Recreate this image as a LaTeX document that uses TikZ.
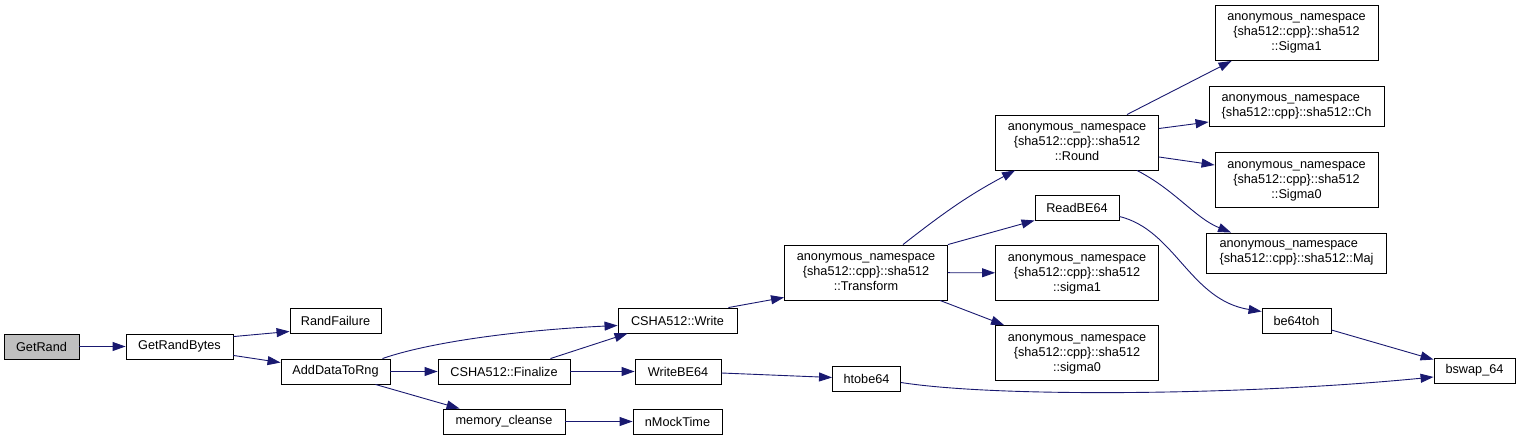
\documentclass[tikz,border=0pt]{standalone}
\usepackage{fontspec}
\setmainfont{Liberation Sans}
\usetikzlibrary{arrows.meta}
\definecolor{edgeblue}{HTML}{191970}
\definecolor{rootgray}{HTML}{BFBFBF}
\newcommand{\nsname}[1]{\begin{tabular}{@{}c@{}}anonymous\_namespace\\
  \{sha512::cpp\}::sha512\hfill\\::#1\end{tabular}}
\begin{document}
\begin{tikzpicture}[x=1pt,y=-1pt,
  box/.style={draw=black,fill=white,line width=0.9pt,inner sep=2pt,minimum height=25pt,
    font=\fontsize{12.7}{15}\selectfont,align=center},
  edge/.style={draw=edgeblue,line width=0.9pt,-{Triangle[length=13pt,width=9pt]}}]
\useasboundingbox (0,0) rectangle (1520,441);

\node[box,fill=rootgray,minimum width=75pt] (getrand) at (41.5,346.5) {GetRand};
\node[box,minimum width=107pt] (randbytes) at (179.5,346.5) {GetRandBytes};
\node[box,minimum width=91pt] (randfail) at (335.5,320.5) {RandFailure};
\node[box,minimum width=109pt] (adddata) at (335.5,371.5) {AddDataToRng};
\node[box,minimum width=119pt] (shawrite) at (677.5,320.5) {CSHA512::Write};
\node[box,minimum width=132pt] (shafinal) at (504,371.5) {CSHA512::Finalize};
\node[box,minimum width=86pt] (writebe) at (678,371.5) {WriteBE64};
\node[box,minimum width=122pt] (cleanse) at (504,421.5) {memory\_cleanse};
\node[box,minimum width=89pt] (mocktime) at (677.5,421.5) {nMockTime};
\node[box,minimum width=163pt,minimum height=55pt] (transform) at (866,272.5) {\nsname{Transform}};
\node[box,minimum width=163pt,minimum height=55pt] (round) at (1077,142.5) {\nsname{Round}};
\node[box,minimum width=84pt] (readbe) at (1077,207.5) {ReadBE64};
\node[box,minimum width=163pt,minimum height=55pt] (lsigma1) at (1077,273) {\nsname{sigma1}};
\node[box,minimum width=163pt,minimum height=55pt] (lsigma0) at (1077,353) {\nsname{sigma0}};
\node[box,minimum width=68pt] (htobe) at (866.5,378.5) {htobe64};
\node[box,minimum width=163pt,minimum height=55pt] (usigma1) at (1296.5,33) {\nsname{Sigma1}};
\node[box,minimum width=175pt,minimum height=40pt,align=left] (ch) at (1296.5,106.5) {anonymous\_namespace\\\{sha512::cpp\}::sha512::Ch};
\node[box,minimum width=163pt,minimum height=55pt] (usigma0) at (1296.5,180) {\nsname{Sigma0}};
\node[box,minimum width=180pt,minimum height=40pt,align=left] (maj) at (1296.5,253) {anonymous\_namespace\\\{sha512::cpp\}::sha512::Maj};
\node[box,minimum width=69pt] (betoh) at (1296.5,320.5) {be64toh};
\node[box,minimum width=81pt] (bswap) at (1474.5,370.5) {bswap\_64};

\draw[edge] (getrand) -- (randbytes);
\draw[edge] ([yshift=-3pt]randbytes.north east) -- ([yshift=2pt]randfail.south west);
\draw[edge] ([yshift=4pt]randbytes.south east) -- ([yshift=-4pt]adddata.north west);
\draw[edge] ([xshift=-8pt]adddata.north east) .. controls (430,342) and (520,330) .. ([yshift=-5pt]shawrite.west);
\draw[edge] (adddata) -- (shafinal);
\draw[edge] ([xshift=-15pt]adddata.south east) -- ([xshift=17pt]cleanse.north west);
\draw[edge] ([xshift=-20pt]shafinal.north east) -- ([xshift=10pt]shawrite.south west);
\draw[edge] (shafinal) -- (writebe);
\draw[edge] (cleanse) -- (mocktime);
\draw[edge] ([xshift=-9pt]shawrite.north east) -- ([yshift=3pt]transform.south west);
\draw[edge] ([yshift=-1.5pt]writebe.east) -- ([yshift=1pt]htobe.west);
\draw[edge] ([xshift=37pt]transform.north) to[out=38,in=208] ([xshift=20pt]round.south west);
\draw[edge] (transform.north east) -- (readbe.south west);
\draw[edge] (transform) -- (lsigma1);
\draw[edge] ([xshift=-8pt]transform.south east) -- ([xshift=9pt]lsigma0.north west);
\draw[edge] ([xshift=-32pt]round.north east) -- ([xshift=17pt]usigma1.south west);
\draw[edge] ([yshift=14pt]round.east) -- ([yshift=-15.5pt]ch.west);
\draw[edge] ([yshift=-14.5pt]round.east) -- ([yshift=15pt]usigma0.west);
\draw[edge] ([xshift=-22pt]round.south east) .. controls (1175,190) and (1195,218) .. ([xshift=25pt]maj.north west);
\draw[edge] ([yshift=-9pt]readbe.east) .. controls (1175,230) and (1190,300) .. ([yshift=9pt]betoh.west);
\draw[edge] ([yshift=-9.5pt]betoh.east) -- ([yshift=-2pt]bswap.north west);
\draw[edge] ([yshift=-4pt]htobe.east) .. controls (1000,398) and (1250,395) .. ([yshift=-6.5pt]bswap.west);
\end{tikzpicture}
\end{document}
